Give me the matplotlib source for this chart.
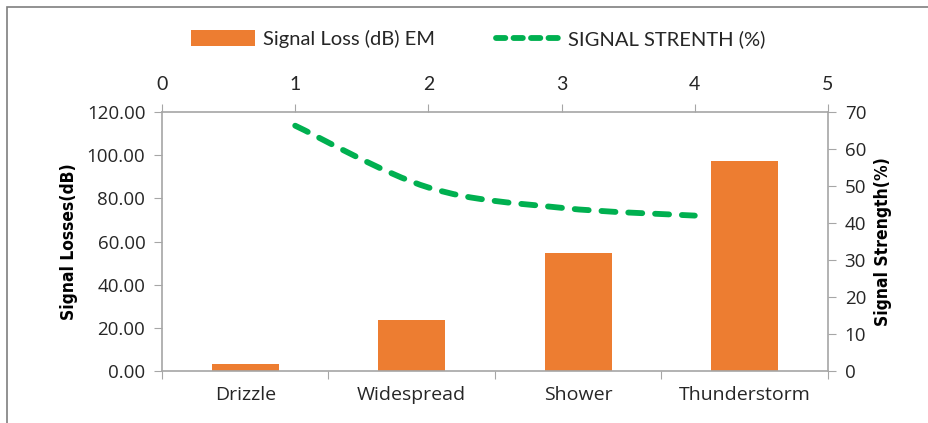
import numpy as np
import matplotlib.pyplot as plt
from matplotlib.path import Path
from matplotlib.patches import PathPatch, Rectangle
from matplotlib.lines import Line2D
from matplotlib.patches import Patch

# data
categories = ['Drizzle', 'Widespread', 'Shower', 'Thunderstorm']
signal_loss = [3.4, 23.5, 54.7, 97.5]
strength_x = [1, 2, 3, 4]
strength = [66.3, 49.6, 44.1, 42.0]

orange = '#ED7D31'
green = '#00B050'
grey = '#A6A6A6'
txt = '#262626'

W, H = 929, 423
fig = plt.figure(figsize=(W / 100, H / 100), dpi=100)

# frame of the chart area (only left and top edges show)
fig.add_artist(Rectangle((7 / W, -0.1), 1.2, (H - 7) / H + 0.1, transform=fig.transFigure,
                         fill=False, edgecolor='#7F7F7F', lw=1.2))

rect = [162 / W, (H - 371) / H, 666 / W, 259 / H]
ax = fig.add_axes(rect)
ax2 = fig.add_axes(rect, frameon=False)

# bars on primary axes
x = np.arange(len(categories)) + 0.5
ax.bar(x, signal_loss, width=0.4, color=orange, zorder=2)
ax.set_xlim(0, 4)
ax.set_ylim(0, 120)
ax.set_yticks(np.arange(0, 121, 20))
ax.set_yticklabels([f'{v:.2f}' for v in np.arange(0, 121, 20)])
ax.set_xticks(np.arange(0, 5))
ax.set_xticklabels([])
ax.set_xticks(x, minor=True)
ax.set_xticklabels(categories, minor=True)
ax.tick_params(axis='x', which='minor', length=0, pad=11, labelsize=14, labelcolor=txt)
ax.tick_params(axis='x', which='major', length=6, color=grey, direction='out')
ax.tick_params(axis='y', length=6, color=grey, direction='out', labelsize=13.5, labelcolor=txt, pad=6)
for lab in ax.get_xticklabels(minor=True) + ax.get_yticklabels():
    lab.set_fontfamily('Open Sans')
for s in ax.spines.values():
    s.set_color(grey)
    s.set_linewidth(1.2)
ax.set_ylabel('Signal Losses(dB)', fontsize=12.5, fontweight='bold', fontfamily='DejaVu Sans',
              fontstretch='condensed', color='black', labelpad=6)

# line on secondary axes (top x, right y)
ax2.set_xlim(0, 5)
ax2.set_ylim(0, 70)
ax2.xaxis.tick_top()
ax2.yaxis.tick_right()
ax2.yaxis.set_label_position('right')
ax2.set_xticks(range(0, 6))
ax2.set_yticks(range(0, 71, 10))
ax2.tick_params(axis='x', length=6, color=grey, direction='out', labelsize=14, labelcolor=txt, pad=8)
ax2.tick_params(axis='y', length=6, color=grey, direction='out', labelsize=13.5, labelcolor=txt, pad=6)
for lab in ax2.get_xticklabels():
    lab.set_fontfamily('Lato')
for lab in ax2.get_yticklabels():
    lab.set_fontfamily('Open Sans')
ax2.set_ylabel('Signal Strength(%)', fontsize=12.5, fontweight='bold', fontfamily='DejaVu Sans',
               fontstretch='condensed', color='black', labelpad=6)

# smoothed curve (Catmull-Rom -> Bezier), like Excel's smoothed line
pts = np.column_stack([strength_x, strength]).astype(float)
verts = [tuple(pts[0])]
codes = [Path.MOVETO]
n = len(pts)
for i in range(n - 1):
    p0 = pts[max(i - 1, 0)]
    p1 = pts[i]
    p2 = pts[i + 1]
    p3 = pts[min(i + 2, n - 1)]
    c1 = p1 + (p2 - p0) / 6
    c2 = p2 - (p3 - p1) / 6
    verts += [tuple(c1), tuple(c2), tuple(p2)]
    codes += [Path.CURVE4] * 3
patch = PathPatch(Path(verts, codes), fill=False, edgecolor=green, lw=4.2,
                  linestyle=(0, (2.4, 2.2)), capstyle='round', zorder=3)
ax2.add_patch(patch)

# legend
handles = [Patch(facecolor=orange, edgecolor='none'),
           Line2D([], [], color=green, lw=4.2, linestyle=(0, (1.6, 1.4)), dash_capstyle='round')]
fig.legend(handles, ['Signal Loss (dB) EM', 'SIGNAL STRENTH (%)'], loc='center',
           bbox_to_anchor=(478 / W, 1 - 39 / H), ncol=2, frameon=False,
           prop={'family': 'Lato', 'size': 14.5}, handlelength=3.2, handleheight=0.8,
           columnspacing=3.0, handletextpad=0.4, labelcolor=txt)

fig.savefig('out.png', dpi=100)
